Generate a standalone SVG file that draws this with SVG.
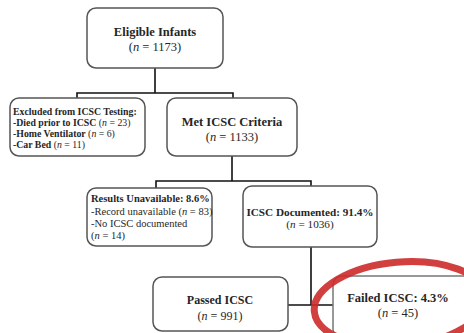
<svg xmlns="http://www.w3.org/2000/svg" width="464" height="333" viewBox="0 0 464 333">
<style>
.box{fill:#fff;stroke:#555;stroke-width:1.5}
.t{font-family:"Liberation Serif","Times New Roman",serif;fill:#262626}
.b{font-weight:bold}
.i{font-style:italic}
.c{text-anchor:middle}
.con{fill:none;stroke:#111;stroke-width:1.6}
</style>
<rect width="464" height="333" fill="#fff"/>
<g id="connectors">
<path class="con" d="M155,68 V93 M77,98 V93 H233 V98"/>
<path class="con" d="M232,156 V181 M156,188 V181 H311 V186"/>
<path class="con" d="M311,247 V305 M288,305 H333"/>
</g>
<g id="eligible">
<rect class="box" x="87" y="8" width="136" height="60" rx="9"/>
<text class="t b c" x="155" y="36" font-size="12.5">Eligible Infants</text>
<text class="t c" x="155" y="51" font-size="12.5">(<tspan class="i">n</tspan> = 1173)</text>
</g>
<g id="excluded">
<rect class="box" x="10" y="98" width="135" height="58" rx="9"/>
<text class="t b" x="13" y="115" font-size="9.8">Excluded from ICSC Testing:</text>
<text class="t" x="13" y="126" font-size="9.8"><tspan class="b">-Died prior to ICSC</tspan> (<tspan class="i">n</tspan> = 23)</text>
<text class="t" x="13" y="137" font-size="9.8"><tspan class="b">-Home Ventilator</tspan> (<tspan class="i">n</tspan> = 6)</text>
<text class="t" x="13" y="148" font-size="9.8"><tspan class="b">-Car Bed</tspan> (<tspan class="i">n</tspan> = 11)</text>
</g>
<g id="met">
<rect class="box" x="167" y="98" width="130" height="58" rx="9"/>
<text class="t b c" x="232" y="126" font-size="12.5">Met ICSC Criteria</text>
<text class="t c" x="232" y="141" font-size="12.5">(<tspan class="i">n</tspan> = 1133)</text>
</g>
<g id="unavailable">
<rect class="box" x="87" y="188" width="125" height="58" rx="9"/>
<text class="t b" x="91" y="202" font-size="10.5">Results Unavailable: 8.6%</text>
<text class="t" x="91" y="215" font-size="10.5">-Record unavailable (<tspan class="i">n</tspan> = 83)</text>
<text class="t" x="91" y="227" font-size="10.5">-No ICSC documented</text>
<text class="t" x="91" y="239" font-size="10.5">(<tspan class="i">n</tspan> = 14)</text>
</g>
<g id="documented">
<rect class="box" x="243" y="186" width="134" height="61" rx="9"/>
<text class="t b c" x="310" y="216" font-size="11.2">ICSC Documented: 91.4%</text>
<text class="t c" x="310" y="228" font-size="11.2">(<tspan class="i">n</tspan> = 1036)</text>
</g>
<g id="passed">
<rect class="box" x="153" y="277" width="135" height="54" rx="9"/>
<text class="t b c" x="220" y="304" font-size="12">Passed ICSC</text>
<text class="t c" x="220" y="320" font-size="12">(<tspan class="i">n</tspan> = 991)</text>
</g>
<g id="failed">
<rect class="box" x="333" y="276" width="140" height="62" rx="9" style="stroke:#777"/>
<text class="t b c" x="398" y="302" font-size="12.5">Failed ICSC: 4.3%</text>
<text class="t c" x="398" y="317" font-size="12.5">(<tspan class="i">n</tspan> = 45)</text>
</g>
<g id="highlight">
<ellipse cx="400" cy="304" rx="86" ry="42" transform="rotate(-5 400 304)" fill="none" stroke="#cc2a2a" stroke-width="7" opacity="0.9"/>
</g>
</svg>
